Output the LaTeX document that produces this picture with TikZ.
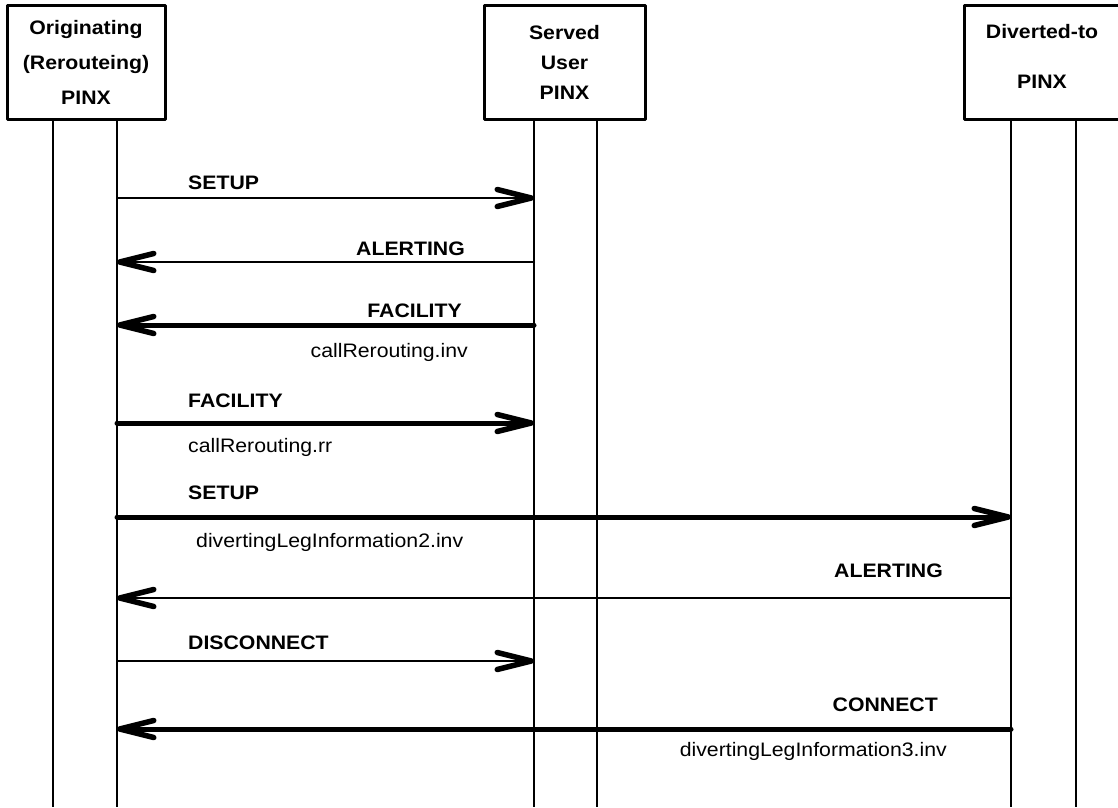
\documentclass[tikz,border=0pt]{standalone}
\usepackage{fontspec}
\setmainfont{Liberation Sans}[FakeStretch=1.09]
\usetikzlibrary{arrows.meta}

\begin{document}
\begin{tikzpicture}[
	x=1pt,y=-1pt,
	>={Straight Barb[length=34pt,width=17pt,line width=5.5pt,round]},
	line cap=round,
	line join=round,
	pinx/.style={draw,line width=3pt,line cap=butt,minimum width=158pt,minimum height=114pt,inner sep=0pt,align=center},
	life/.style={line width=2pt,line cap=butt},
	msg/.style={->,line width=2pt},
	msgthick/.style={->,line width=5pt},
	lbl/.style={font=\bfseries\fontsize{19.5}{23}\selectfont,inner sep=0pt},
	param/.style={font=\fontsize{19.5}{23}\selectfont,inner sep=0pt}
	]
	\useasboundingbox (0,0) rectangle (1118,807);
	% the three PINX
	\node[pinx,font=\bfseries\fontsize{19.5}{35}\selectfont] (orig) at (86,62) {Originating\\(Rerouteing)\\PINX};
	\node[pinx,minimum width=161pt,font=\bfseries\fontsize{19.5}{30}\selectfont] (serv) at (564.5,62) {Served\\User\\PINX};
	\node[pinx,minimum width=156pt,text depth=12pt,font=\bfseries\fontsize{19.5}{50}\selectfont] (div) at (1042,62) {Diverted-to\\PINX};
	% lifelines
	\coordinate (oa) at (53,807);
	\coordinate (ob) at (117,807);
	\coordinate (sa) at (534,807);
	\coordinate (sb) at (597,807);
	\coordinate (da) at (1011,807);
	\coordinate (db) at (1076,807);
	\foreach \c/\b in {oa/orig,ob/orig,sa/serv,sb/serv,da/div,db/div}
		\draw[life] (\c |- \b.south) -- (\c);
	% message levels
	\foreach \n/\y in {1/198,2/262,3/325,4/423,5/517,6/598,7/661,8/729} {
		\coordinate (o\n) at (ob |- 0,\y);
		\coordinate (s\n) at (sa |- 0,\y);
		\coordinate (d\n) at (da |- 0,\y);
	}
	\draw[msg] (o1) -- (s1);
	\draw[msg] (s2) -- (o2);
	\draw[msgthick] (s3) -- (o3);
	\draw[msgthick] (o4) -- (s4);
	\draw[msgthick] (o5) -- (d5);
	\draw[msg] (d6) -- (o6);
	\draw[msg] (o7) -- (s7);
	\draw[msgthick] (d8) -- (o8);
	% labels
	\node[lbl,anchor=base west] (setup1) at (188,189) {SETUP};
	\node[lbl,anchor=base east] (alert1) at (465,255) {ALERTING};
	\node[lbl,anchor=base east] (fac1) at (462,317) {FACILITY};
	\node[param,anchor=base east] (rrinv) at (468,357) {callRerouting.inv};
	\node[lbl,anchor=base west] (fac2) at (188,407) {FACILITY};
	\node[param,anchor=base west] (rrres) at (188,452) {callRerouting.rr};
	\node[lbl,anchor=base west] (setup2) at (188,499) {SETUP};
	\node[param,anchor=base west] (dli2) at (196,547) {divertingLegInformation2.inv};
	\node[lbl,anchor=base east] (alert2) at (943,577) {ALERTING};
	\node[lbl,anchor=base west] (disc) at (188,649) {DISCONNECT};
	\node[lbl,anchor=base east] (conn) at (938,711) {CONNECT};
	\node[param,anchor=base east] (dli3) at (947,756) {divertingLegInformation3.inv};
\end{tikzpicture}
\end{document}
